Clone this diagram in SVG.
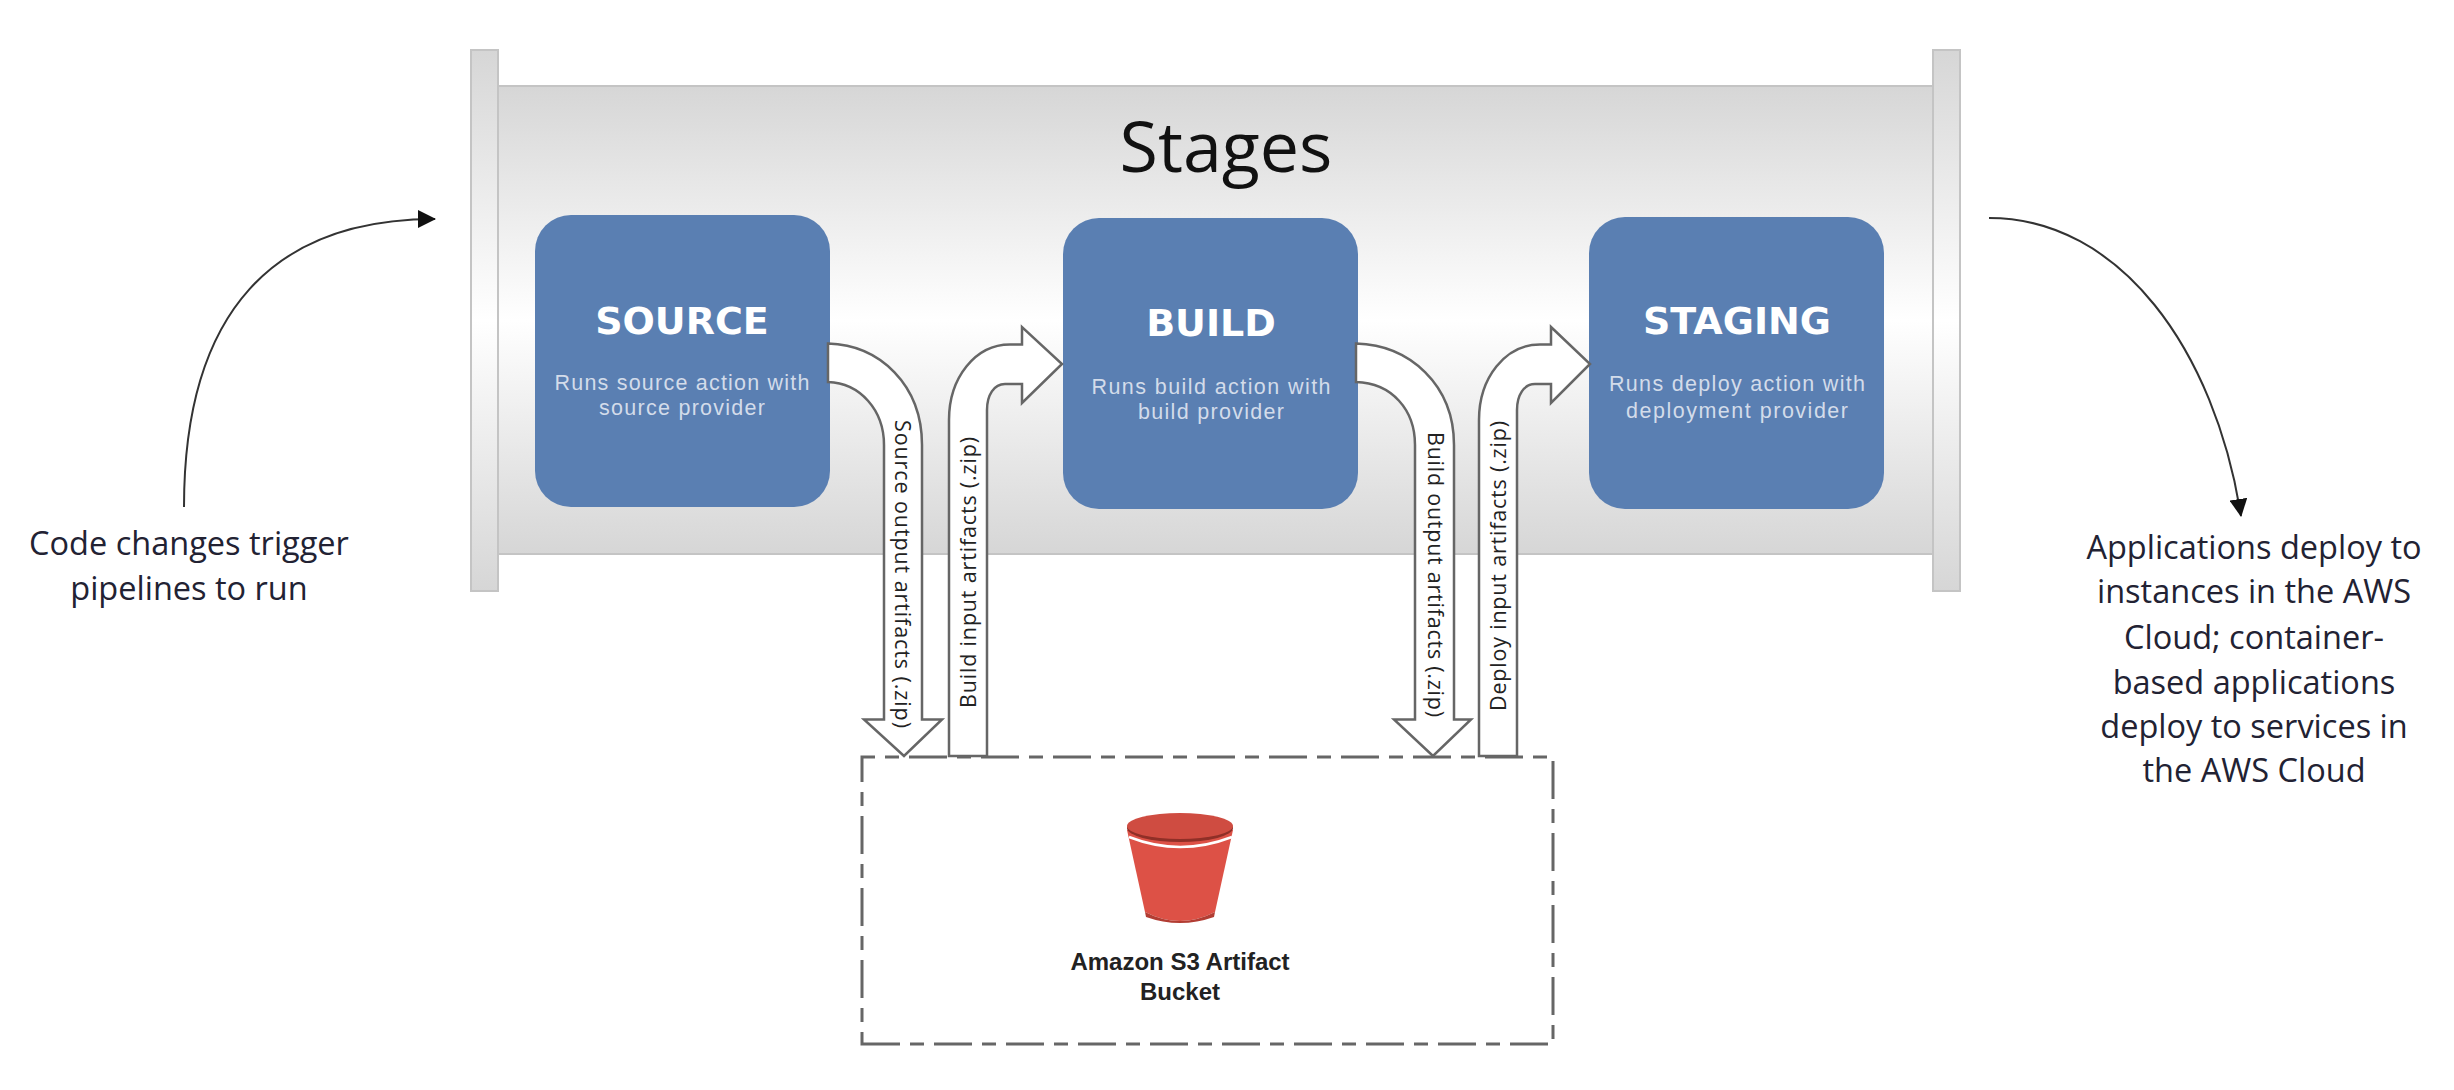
<svg xmlns="http://www.w3.org/2000/svg" width="2454" height="1090" viewBox="0 0 2454 1090">
<defs>
<linearGradient id="pipe" x1="0" y1="0" x2="0" y2="1"><stop offset="0" stop-color="#d6d6d6"/><stop offset="0.5" stop-color="#ffffff"/><stop offset="1" stop-color="#d6d6d6"/></linearGradient>
<marker id="ah" markerWidth="18" markerHeight="18" refX="17" refY="9" orient="auto" markerUnits="userSpaceOnUse"><path d="M0,0 L18,9 L0,18 Z" fill="#111"/></marker>
</defs>
<style>
.fl{fill:url(#pipe);stroke:#c4c4c4;stroke-width:2}
.box{fill:#5a7fb2}
.t{font-family:"DejaVu Sans",sans-serif;font-weight:700;font-size:38px;fill:#fff;text-anchor:middle}
.s{font-family:"Liberation Sans",sans-serif;font-size:21.5px;fill:#d3dcea;text-anchor:middle}
.ar{fill:#fff;stroke:#666;stroke-width:2.5;stroke-linejoin:miter}
.v{font-family:"Open Sans",sans-serif;font-size:21.5px;fill:#222}
.side{font-family:"Open Sans",sans-serif;font-size:32.5px;fill:#223;text-anchor:middle}
.c{fill:none;stroke:#333;stroke-width:2}
.l{font-family:"Liberation Sans",sans-serif;font-weight:700;font-size:24px;fill:#222;text-anchor:middle}
</style>
<rect width="2454" height="1090" fill="#fff"/>
<g id="pipeline">
<rect class="fl" x="498" y="86" width="1435" height="468"/>
<rect class="fl" x="471" y="50" width="27" height="541"/>
<rect class="fl" x="1933" y="50" width="27" height="541"/>
<text x="1226" y="172" font-family="Open Sans, sans-serif" font-size="70" fill="#111" text-anchor="middle">Stages</text>
</g>
<g id="bucket-box">
<path d="M862,1044 H1553 V757 H862 Z" fill="#fff" stroke="#666" stroke-width="3" stroke-dasharray="38 10 14 10"/>
</g>
<g id="source"><rect class="box" x="535" y="215" width="295" height="292" rx="36"/><text class="t" x="682" y="334">SOURCE</text><text class="s" x="682" y="390" textLength="255">Runs source action with</text><text class="s" x="682" y="415" textLength="166">source provider</text></g>
<g id="build"><rect class="box" x="1063" y="218" width="295" height="291" rx="36"/><text class="t" x="1211" y="336">BUILD</text><text class="s" x="1211" y="393.5" textLength="239">Runs build action with</text><text class="s" x="1211" y="419" textLength="146">build provider</text></g>
<g id="staging"><rect class="box" x="1589" y="217" width="295" height="292" rx="36"/><text class="t" x="1737" y="334">STAGING</text><text class="s" x="1737" y="391" textLength="256">Runs deploy action with</text><text class="s" x="1737" y="418" textLength="222">deployment provider</text></g>
<g id="connectors">
<path class="ar" d="M828,343.5 C880,345 922,385 922,445 L922,719.5 L942,719.5 L904,756 L864,719.5 L884,719.5 L884,445 C884,410 860,383 828,382 Z"/>
<path class="ar" d="M949,756 L949,420 C949,378 975,344.5 1010,344.5 L1022,344.5 L1022,327 L1062,364 L1022,403 L1022,384 L1005,384 C994,384 987,395 987,410 L987,756 Z"/>
<path class="ar" d="M1356,343.5 C1410,345 1454,385 1454,445 L1454,719.5 L1471,719.5 L1433,756 L1394,719.5 L1415,719.5 L1415,445 C1415,410 1392,383 1356,382 Z"/>
<path class="ar" d="M1479,756 L1479,420 C1479,378 1505,344.5 1540,344.5 L1551,344.5 L1551,327 L1590,364 L1551,403 L1551,384 L1535,384 C1524,384 1517,395 1517,410 L1517,756 Z"/>
<text class="v" transform="translate(895,420) rotate(90)" textLength="308">Source output artifacts (.zip)</text>
<text class="v" transform="translate(976,708) rotate(-90)" textLength="271">Build input artifacts (.zip)</text>
<text class="v" transform="translate(1428,432) rotate(90)" textLength="285">Build output artifacts (.zip)</text>
<text class="v" transform="translate(1506,711) rotate(-90)" textLength="290">Deploy input artifacts (.zip)</text>
<path class="c" marker-end="url(#ah)" d="M184,507 C184,310 275,219 435,219"/>
<path class="c" marker-end="url(#ah)" d="M1989,218 C2120,218 2215,350 2241,516"/>
</g>
<g id="s3">
<path d="M1127,830 L1145,912 Q1180,930 1215,912 L1233,830 Z" fill="#dd5146"/>
<path d="M1145,912 Q1180,930 1215,912 L1214,917 Q1180,929 1146,917 Z" fill="#b23d33"/>
<path d="M1129,837 Q1180,857 1232,837" fill="none" stroke="#fff" stroke-width="2.5"/>
<ellipse cx="1180" cy="828" rx="53" ry="14" fill="#8f2f27"/>
<ellipse cx="1180" cy="826" rx="53" ry="13" fill="#cf4c41"/>
<text class="l" x="1180" y="970">Amazon S3 Artifact</text>
<text class="l" x="1180" y="1000">Bucket</text>
</g>
<g id="trigger-label"><text class="side" x="189" y="555">Code changes trigger</text><text class="side" x="189" y="600">pipelines to run</text></g>
<g id="deploy-label"><text class="side" x="2254" y="559">Applications deploy to</text><text class="side" x="2254" y="603">instances in the AWS</text><text class="side" x="2254" y="649">Cloud; container-</text><text class="side" x="2254" y="694">based applications</text><text class="side" x="2254" y="738">deploy to services in</text><text class="side" x="2254" y="782">the AWS Cloud</text></g>
</svg>
